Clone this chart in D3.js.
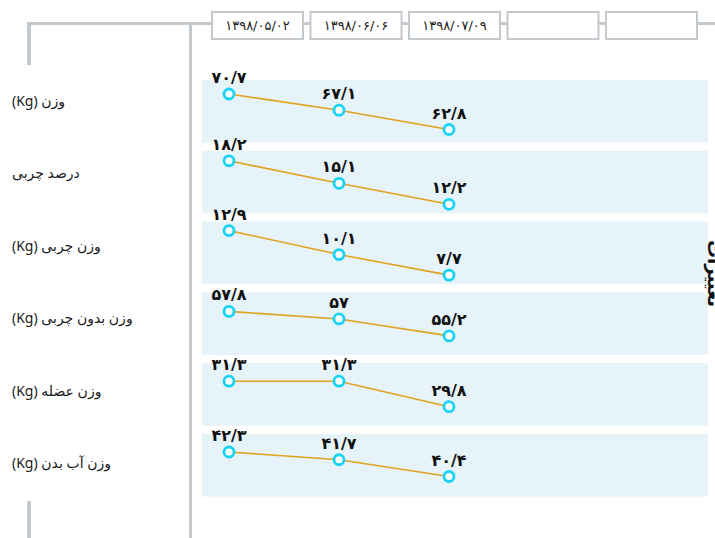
<!DOCTYPE html>
<html>
<head>
<meta charset="utf-8">
<script src="https://cdn.jsdelivr.net/npm/d3@7"></script>
<style>
  body { margin: 0; background: #fff; overflow: hidden; }
  svg { display: block; }
</style>
</head>
<body>
<svg width="715" height="538"></svg>
<script>
// data
var dates = ["۱۳۹۸/۰۵/۰۲", "۱۳۹۸/۰۶/۰۶", "۱۳۹۸/۰۷/۰۹", "", ""];
var rowNames = ["وزن (Kg)", "درصد چربی", "وزن چربی (Kg)", "وزن بدون چربی (Kg)", "وزن عضله (Kg)", "وزن آب بدن (Kg)"];
var weight = [70.7, 67.1, 62.8];
var fatPct = [18.2, 15.1, 12.2];
var fatMass = [12.9, 10.1, 7.7];
var leanMass = [57.8, 57, 55.2];
var muscle = [31.3, 31.3, 29.8];
var water = [42.3, 41.7, 40.4];
var series = [weight, fatPct, fatMass, leanMass, muscle, water];

// layout per row (pixels inside band)
var insetTop = [14, 10, 9, 19, 18, 18];
var insetBottom = [13, 9, 9, 19, 19, 20];

var faDigits = "۰۱۲۳۴۵۶۷۸۹";
function fa(v) {
  return String(v).replace(/\d/g, function (c) { return faDigits[+c]; }).replace(".", "/");
}

var svg = d3.select("svg");
var gray = "#c4c9ce";

// frame lines
svg.append("line").attr("x1", 27).attr("x2", 715).attr("y1", 23.5).attr("y2", 23.5)
  .attr("stroke", gray).attr("stroke-width", 3);
svg.append("line").attr("x1", 29).attr("x2", 29).attr("y1", 22).attr("y2", 65)
  .attr("stroke", gray).attr("stroke-width", 4);
svg.append("line").attr("x1", 29).attr("x2", 29).attr("y1", 501).attr("y2", 538)
  .attr("stroke", gray).attr("stroke-width", 4);
svg.append("line").attr("x1", 190.5).attr("x2", 190.5).attr("y1", 22).attr("y2", 538)
  .attr("stroke", gray).attr("stroke-width", 3);

// header date boxes
var xb = d3.scaleBand().domain(d3.range(dates.length)).range([211, 698]).paddingInner(0.0558);
var head = svg.append("g").selectAll("g").data(dates).enter().append("g");
head.append("rect")
  .attr("x", function (d, i) { return xb(i) + 1; })
  .attr("y", 12)
  .attr("width", xb.bandwidth() - 2)
  .attr("height", 27)
  .attr("fill", "#fff")
  .attr("stroke", gray)
  .attr("stroke-width", 2);
head.append("text")
  .attr("x", function (d, i) { return xb(i) + xb.bandwidth() / 2; })
  .attr("y", 30)
  .attr("text-anchor", "middle")
  .attr("direction", "ltr")
  .attr("font-family", "DejaVu Sans")
  .attr("font-size", 13)
  .attr("fill", "#222")
  .text(function (d) { return d; });

// rows
var yb = d3.scaleBand().domain(d3.range(series.length)).range([80, 496.5]).paddingInner(0.117);
var x = d3.scaleLinear().domain([0, 2]).range([229, 449]);

svg.append("g").selectAll("rect").data(series).enter().append("rect")
  .attr("x", 202)
  .attr("width", 506)
  .attr("y", function (d, i) { return yb(i); })
  .attr("height", yb.bandwidth())
  .attr("fill", "#e6f3f8");

// row names
svg.append("g").selectAll("text").data(rowNames).enter().append("text")
  .attr("x", 12)
  .attr("y", function (d, i) { return 106 + i * 72.4; })
  .attr("direction", "rtl")
  .attr("text-anchor", "end")
  .attr("font-family", "Noto Sans, DejaVu Sans")
  .attr("font-size", 14)
  .attr("fill", "#1a1a1a")
  .text(function (d) { return d; });

series.forEach(function (vals, r) {
  var y = d3.scaleLinear()
    .domain(d3.extent(vals))
    .range([yb(r) + yb.bandwidth() - insetBottom[r], yb(r) + insetTop[r]]);
  var g = svg.append("g");
  var line = d3.line()
    .x(function (d, i) { return x(i); })
    .y(function (d) { return y(d); });
  g.append("path")
    .datum(vals)
    .attr("fill", "none")
    .attr("stroke", "#e0a21f")
    .attr("stroke-width", 1.6)
    .attr("d", line);
  g.selectAll("circle").data(vals).enter().append("circle")
    .attr("cx", function (d, i) { return x(i); })
    .attr("cy", function (d) { return y(d); })
    .attr("r", 5)
    .attr("fill", "#fff")
    .attr("stroke", "#19d3f7")
    .attr("stroke-width", 2.8);
  g.selectAll("text").data(vals).enter().append("text")
    .attr("x", function (d, i) { return x(i); })
    .attr("y", function (d) { return y(d) - 11; })
    .attr("text-anchor", "middle")
    .attr("direction", "ltr")
    .attr("font-family", "DejaVu Sans")
    .attr("font-weight", "bold")
    .attr("font-size", 16)
    .attr("fill", "#111")
    .text(function (d) { return fa(d); });
});

// vertical title at right edge, cut off as in the original
svg.append("text")
  .attr("transform", "translate(708,240) rotate(90)")
  .attr("font-family", "DejaVu Sans")
  .attr("font-weight", "bold")
  .attr("font-size", 18)
  .attr("fill", "#111")
  .attr("direction", "rtl")
  .attr("text-anchor", "end")
  .text("تغییرات");
</script>
</body>
</html>
